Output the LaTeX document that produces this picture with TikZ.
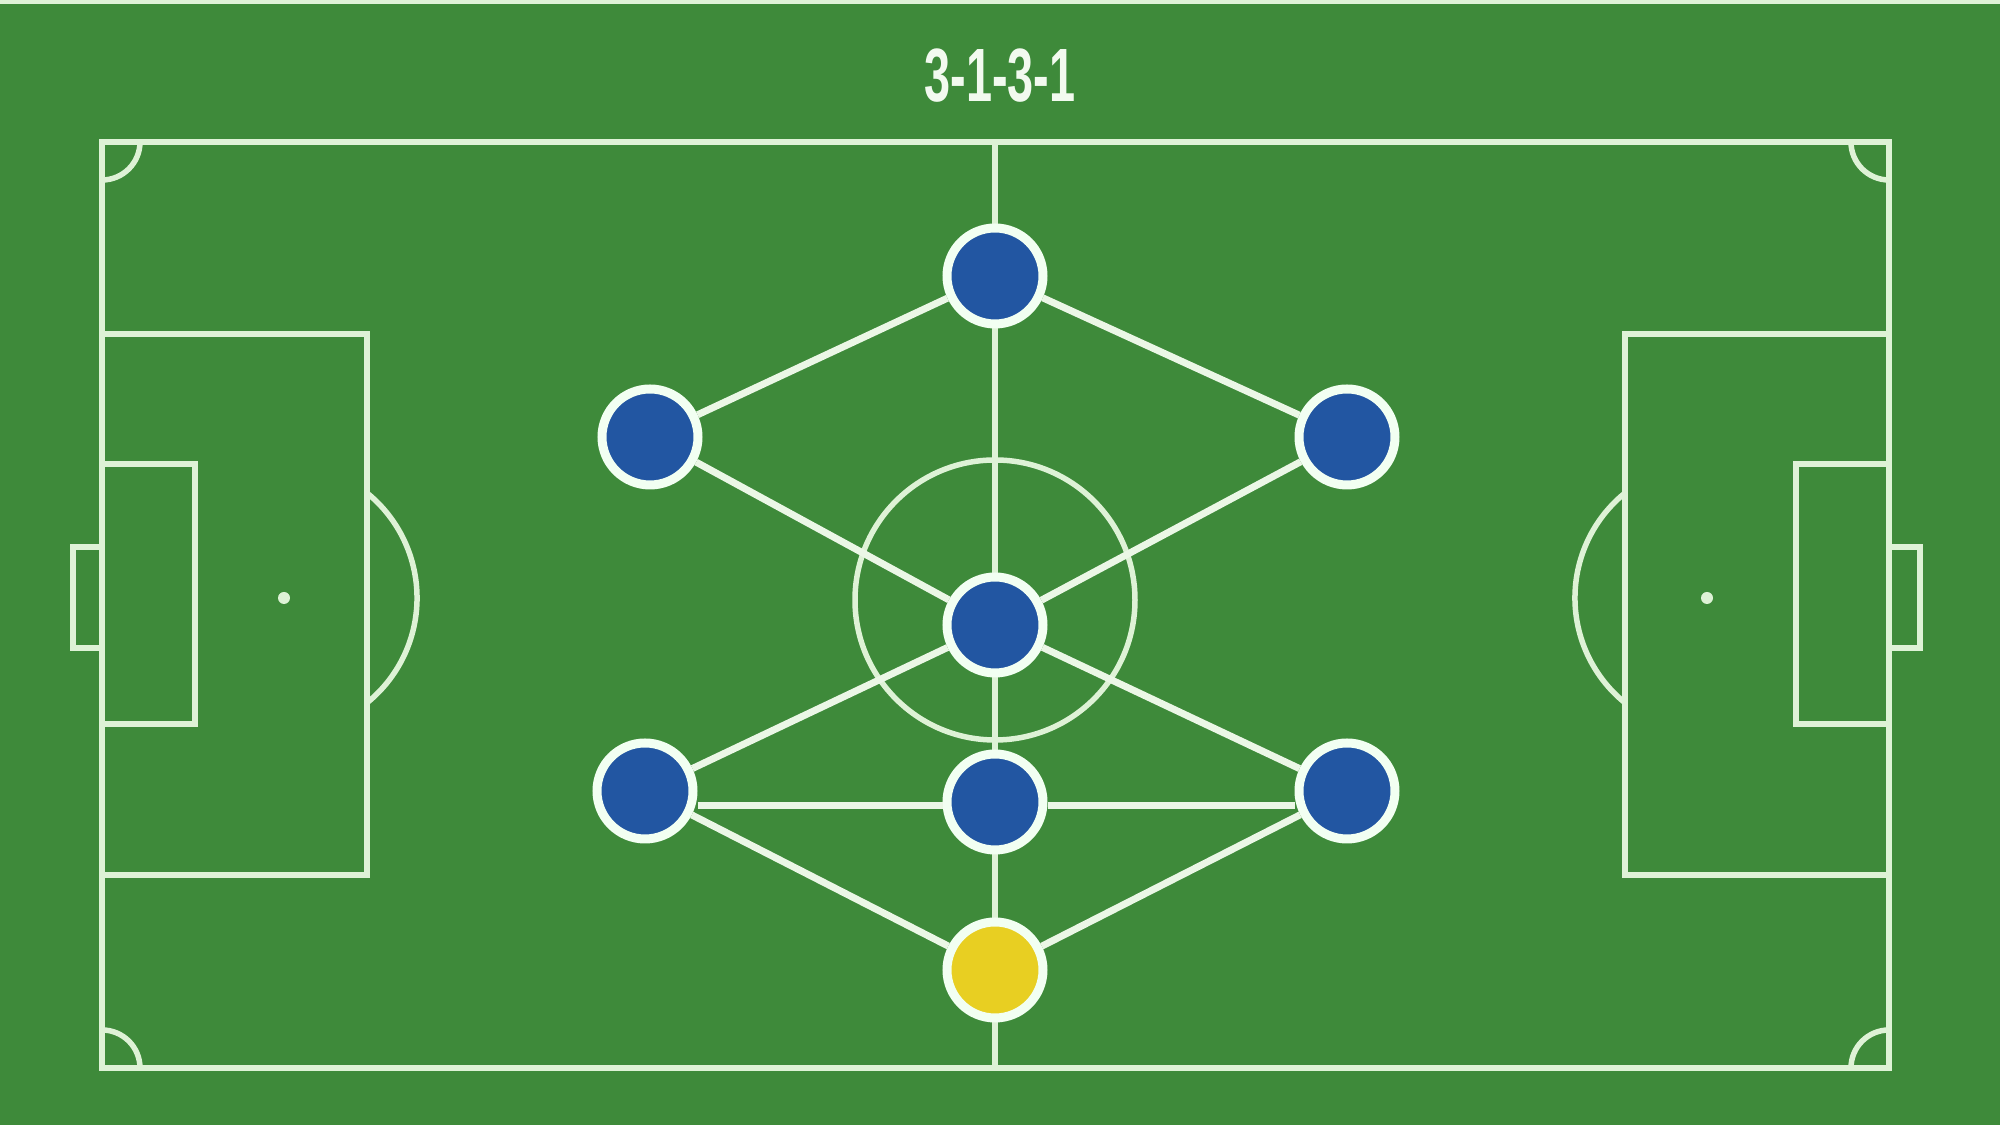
\documentclass[tikz,border=0pt]{standalone}
\usepackage{fontspec}
\usepackage{tikz}
\usetikzlibrary{shapes.geometric}
\newfontfamily\titlefont{Liberation Sans}[FakeStretch=0.62]

\definecolor{grass}{RGB}{62,138,58}
\definecolor{chalk}{RGB}{222,242,214}
\definecolor{kit}{RGB}{34,86,162}
\definecolor{keeper}{RGB}{232,207,34}

\begin{document}
\begin{tikzpicture}[x=0.1mm, y=0.1mm]
\tikzstyle{pitch} = [draw=chalk, line width=0.55mm]
\tikzstyle{link} = [draw=chalk!60!white, line width=0.7mm]
\tikzstyle{player} = [circle, minimum size=9.6mm, inner sep=0pt, draw=white!95!green, line width=0.9mm, fill=kit]
\tikzstyle{goalie} = [player, fill=keeper]

\useasboundingbox (0,0) rectangle (2000,1125);
\fill [grass] (0,0) rectangle (2000,1125);
\fill [chalk] (0,1121) rectangle (2000,1125);

% pitch markings
\draw [pitch] (102,57) rectangle (1889,983);
\draw [pitch] (995,57) -- (995,983);
\draw [pitch] (995,525) circle (140);
\draw [pitch] (102,250) rectangle (367,791);
\draw [pitch] (1889,250) rectangle (1625,791);
\draw [pitch] (102,401) rectangle (195,661);
\draw [pitch] (1889,401) rectangle (1796,661);
\draw [pitch] (102,477) rectangle (73,578);
\draw [pitch] (1889,477) rectangle (1920,578);
\fill [chalk] (284,527) circle (6);
\fill [chalk] (1707,527) circle (6);
\draw [pitch] (367,632) arc (51:-51:135);
\draw [pitch] (1625,632) arc (129:231:135);
\draw [pitch] (140,983) arc (0:-90:38);
\draw [pitch] (1851,983) arc (180:270:38);
\draw [pitch] (140,57) arc (0:90:38);
\draw [pitch] (1851,57) arc (180:90:38);

\node (title) at (1000,1049) {\titlefont\bfseries\fontsize{21.5pt}{24pt}\selectfont\color{chalk!40!white}3-1-3-1};

% players
\node (st) [player] at (995,849) {};
\node (lm) [player] at (650,688) {};
\node (rm) [player] at (1347,688) {};
\node (cm) [player] at (995,500) {};
\node (lb) [player] at (645,334) {};
\node (cb) [player] at (995,323) {};
\node (rb) [player] at (1347,334) {};
\node (gk) [goalie] at (995,155) {};

\draw [link] (st) -- (lm);
\draw [link] (st) -- (rm);
\draw [link] (lm) -- (cm);
\draw [link] (rm) -- (cm);
\draw [link] (cm) -- (lb);
\draw [link] (cm) -- (rb);
\draw [link] ([yshift=-0.4mm]lb.east |- cb) -- ([yshift=-0.4mm]cb.west);
\draw [link] ([yshift=-0.4mm]rb.west |- cb) -- ([yshift=-0.4mm]cb.east);
\draw [link] (lb) -- (gk);
\draw [link] (rb) -- (gk);
\end{tikzpicture}
\end{document}
